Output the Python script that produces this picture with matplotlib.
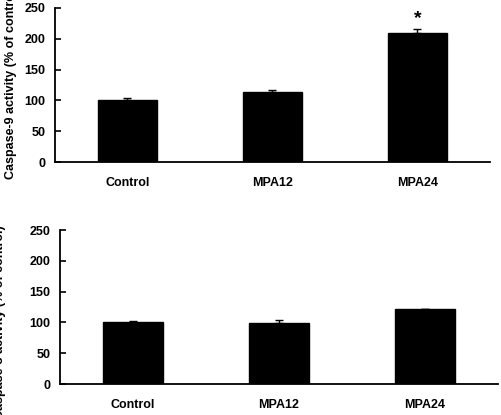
import numpy as np
import matplotlib
matplotlib.use('Agg')
import matplotlib.pyplot as plt

plt.rcParams['font.family'] = ['Liberation Sans', 'DejaVu Sans']
plt.rcParams['font.weight'] = 'bold'

groups = ['Control', 'MPA12', 'MPA24']
casp9 = [101, 114, 209]
casp9_err = [3, 3, 7]
casp3 = [101, 98.5, 121]
casp3_err = [1.5, 6, 1.5]
yticks = [0, 50, 100, 150, 200, 250]

W, H = 502, 415
fig = plt.figure(figsize=(W / 100, H / 100), dpi=100)

# axes boxes in pixels: left, right, top, bottom
boxes = [(55, 490, 8, 162), (60, 498, 230, 384)]
data = [(casp9, casp9_err), (casp3, casp3_err)]

axes = []
for (l, r, t, b), (vals, errs) in zip(boxes, data):
    ax = fig.add_axes([l / W, 1 - b / H, (r - l) / W, (b - t) / H])
    x = np.arange(len(groups))
    ax.bar(x, vals, width=0.41, color='black', edgecolor='black')
    ax.errorbar(x, vals, yerr=[np.zeros(len(errs)), errs], fmt='none',
                ecolor='black', elinewidth=1, capsize=3, capthick=1)
    ax.set_xlim(-0.5, 2.5)
    ax.set_ylim(0, 250)
    ax.set_yticks(yticks)
    ax.set_xticks(x)
    ax.set_xticklabels(groups, fontsize=9, fontweight='bold')
    ax.tick_params(axis='x', length=0, pad=11)
    ax.tick_params(axis='y', direction='in', length=4, width=1.2,
                   labelsize=9, pad=7)
    for s in ['top', 'right']:
        ax.spines[s].set_visible(False)
    for s in ['left', 'bottom']:
        ax.spines[s].set_linewidth(1.3)
    axes.append(ax)

# significance star
axes[0].annotate('*', xy=(2, casp9[2] + casp9_err[2]), xytext=(0, 1),
                 textcoords='offset points', ha='center', va='bottom',
                 fontsize=14, fontweight='bold')

fig.text(11 / W, 1 - 82 / H, 'Caspase-9 activity (% of control)',
         rotation=90, ha='center', va='center', fontsize=9, fontweight='bold')
fig.text(0 / W, 1 - 322 / H, 'Caspase-3 activity (% of control)',
         rotation=90, ha='center', va='center', fontsize=9, fontweight='bold')

fig.savefig('out.png', dpi=100)
